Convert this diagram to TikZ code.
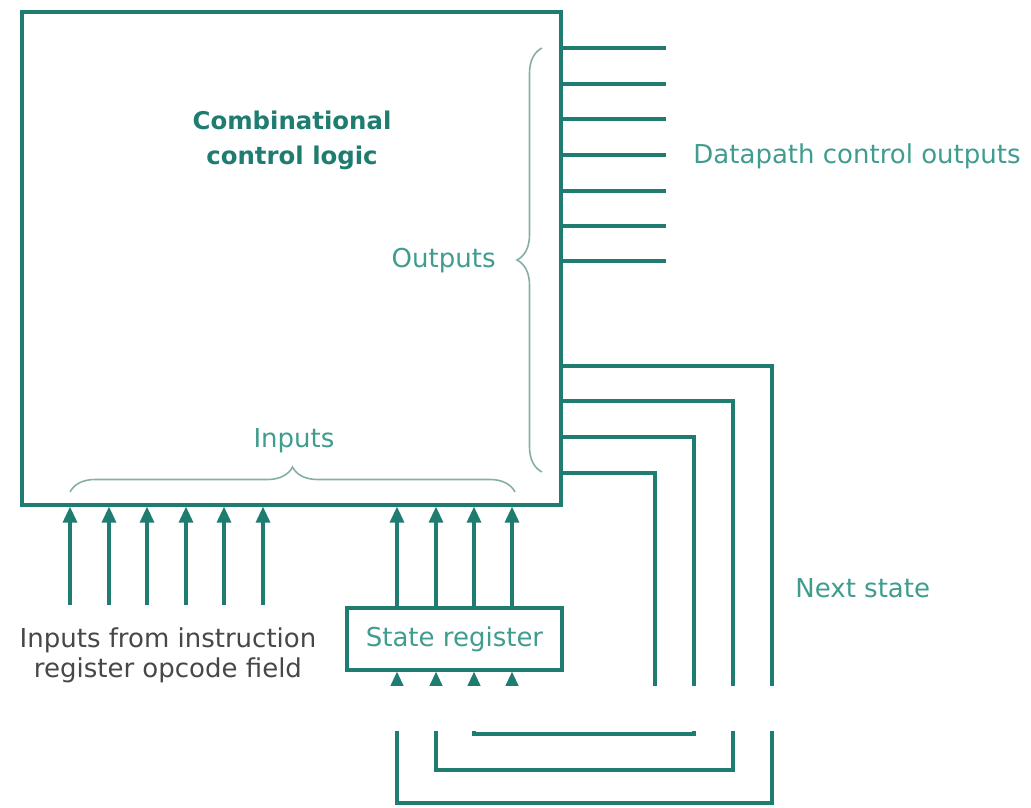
\documentclass[tikz,border=0pt]{standalone}
\usepackage{fontspec}
\setmainfont{DejaVu Sans}
\usetikzlibrary{arrows.meta,decorations.pathreplacing}

\definecolor{fsmteal}{HTML}{1E7D70}
\definecolor{fsmtext}{HTML}{3F9C8F}
\definecolor{fsmgray}{HTML}{474747}
\definecolor{fsmbracec}{HTML}{86AEA8}

\tikzset{
  fsmbox/.style={draw=fsmteal, line width=1.6pt, inner sep=0pt},
  fsmwire/.style={draw=fsmteal, line width=1.6pt},
  fsmarrow/.style={fsmwire, -{Triangle[width=7pt,length=8pt]}},
  fsmlabel/.style={text=fsmtext, font=\fontsize{13}{15}\selectfont, inner sep=0pt},
  fsmbrace/.style={draw=fsmbracec, line width=.8pt, decorate, decoration={brace, amplitude=12.5pt}}
}

\begin{document}
\begin{tikzpicture}[x=.5pt, y=.5pt]
\useasboundingbox (0,0) rectangle (1031,-807);

\node[fsmbox, minimum width=269.5pt, minimum height=246.5pt] (logic) at (291.5,-258.5) {};
\node[fsmbox, fsmlabel, minimum width=107.5pt, minimum height=31pt] (sreg) at (454.5,-639) {State register};

\node[fsmlabel, text=fsmteal, font=\bfseries\fontsize{12.2}{17.5}\selectfont, align=center] (title) at (292,-140) {Combinational\\control logic};
\node[fsmlabel, anchor=base east] (outlbl) at (496,-268) {Outputs};
\node[fsmlabel, anchor=base] (inlbl) at (294,-447) {Inputs};
\node[fsmlabel, anchor=base west] (dplbl) at (693,-164) {Datapath control outputs};
\node[fsmlabel, anchor=base west] (nslbl) at (795,-597) {Next state};
\node[fsmlabel, text=fsmgray, align=center] (oplbl) at (168,-655) {Inputs from instruction\\register opcode field};

\foreach \x [count=\i] in {70,109,147,186,224,263}
  \coordinate (op\i) at (\x,-605);
\foreach \x [count=\i] in {397,436,474,512}
  \coordinate (st\i) at (\x,0);
\foreach \y [count=\i] in {48,84,119,155,191,226,261}
  \coordinate (dp\i) at (666,-\y);
\foreach \x/\y [count=\i] in {772/366,733/401,694/437,655/473}
  \coordinate (nx\i) at (\x,-\y);

\foreach \i in {1,...,6}
  \draw[fsmarrow] (op\i) -- (op\i |- logic.south);
\foreach \i in {1,...,4}
  \draw[fsmarrow] (st\i |- sreg.north) -- (st\i |- logic.south);
\foreach \i in {1,...,7}
  \draw[fsmwire] (logic.east |- dp\i) -- (dp\i);

\draw[fsmarrow] (logic.east |- nx1) -| (772,-803) -| (st1 |- sreg.south);
\draw[fsmarrow] (logic.east |- nx2) -| (733,-770) -| (st2 |- sreg.south);
\draw[fsmarrow] (logic.east |- nx3) -| (694,-734) -| (st3 |- sreg.south);
\draw[fsmarrow] (logic.east |- nx4) -| (655,-698) -| (st4 |- sreg.south);

\fill[white] (0,-686) rectangle (1031,-731);

\draw[fsmbrace] (70,-492) -- (515,-492);
\draw[fsmbrace] (542,-472) -- (542,-48);
\end{tikzpicture}
\end{document}
